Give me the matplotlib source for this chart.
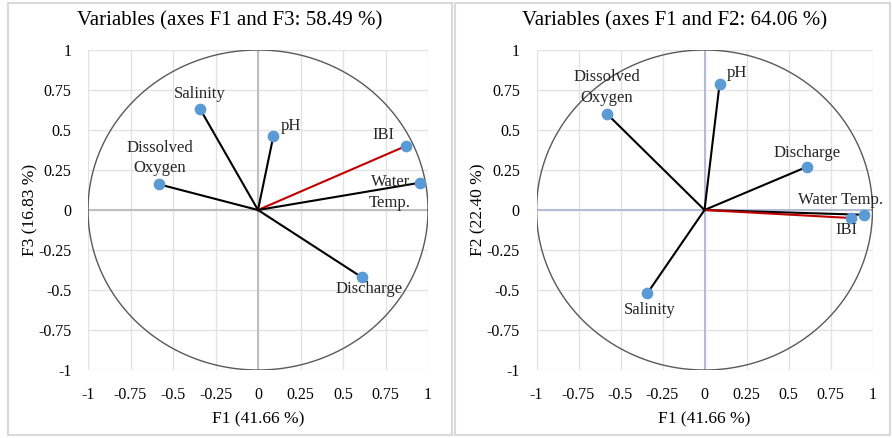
import numpy as np
import matplotlib
matplotlib.use('Agg')
import matplotlib.pyplot as plt
from matplotlib.patches import Rectangle

plt.rcParams['font.family'] = ['Liberation Serif', 'DejaVu Serif']

variables = ['Salinity', 'pH', 'IBI', 'Water\nTemp.', 'Dissolved\nOxygen', 'Discharge']
f1 = [-0.34, 0.09, 0.87, 0.95, -0.58, 0.61]
f3 = [0.63, 0.46, 0.40, 0.17, 0.16, -0.42]
# right panel order
variables_r = ['Dissolved\nOxygen', 'pH', 'Discharge', 'Water Temp.', 'IBI', 'Salinity']
f1_r = [-0.58, 0.09, 0.61, 0.95, 0.87, -0.34]
f2_r = [0.60, 0.79, 0.27, -0.03, -0.05, -0.52]

ticks = [-1, -0.75, -0.5, -0.25, 0, 0.25, 0.5, 0.75, 1]
tick_labels = ['-1', '-0.75', '-0.5', '-0.25', '0', '0.25', '0.5', '0.75', '1']

# label offsets in points (dx, dy, ha, va)
offs_left = {
    'Salinity': (0, 5, 'center', 'bottom'),
    'pH': (5, 2, 'left', 'bottom'),
    'IBI': (-8, 2, 'right', 'bottom'),
    'Water\nTemp.': (-6, -7, 'right', 'center'),
    'Dissolved\nOxygen': (0, 6, 'center', 'bottom'),
    'Discharge': (5, -3, 'center', 'top'),
}
offs_right = {
    'Dissolved\nOxygen': (0, 6, 'center', 'bottom'),
    'pH': (5, 2, 'left', 'bottom'),
    'Discharge': (0, 4, 'center', 'bottom'),
    'Water Temp.': (14, 11, 'right', 'center'),
    'IBI': (-3, -3, 'center', 'top'),
    'Salinity': (2, -6, 'center', 'top'),
}

fig = plt.figure(figsize=(8.92, 4.38), dpi=100)

# panel borders
for x0, x1 in [(8, 452), (455, 890)]:
    fig.patches.append(Rectangle((x0 / 892, 3 / 438), (x1 - x0) / 892, 432 / 438,
                                 transform=fig.transFigure, fill=False,
                                 edgecolor='#D9D9D9', linewidth=1.5))


def draw_panel(ax, xs, ys, names, offs, zero_color, ylab, title, title_x):
    ax.set_xlim(-1, 1)
    ax.set_ylim(-1, 1)
    ax.set_xticks(ticks)
    ax.set_yticks(ticks)
    ax.set_xticklabels(tick_labels)
    ax.set_yticklabels(tick_labels)
    ax.tick_params(length=0, labelsize=11.5, pad=12)
    ax.grid(color='#E3E3E3', linewidth=1)
    ax.set_axisbelow(True)
    for s in ax.spines.values():
        s.set_visible(False)
    ax.axhline(0, color=zero_color, linewidth=1.5, zorder=1)
    ax.axvline(0, color=zero_color, linewidth=1.5, zorder=1)
    t = np.linspace(0, 2 * np.pi, 400)
    ax.plot(np.cos(t), np.sin(t), color='#595959', linewidth=1, zorder=2)
    for x, y, n in zip(xs, ys, names):
        c = '#C00000' if n == 'IBI' else 'black'
        ax.plot([0, x], [0, y], color=c, linewidth=1.5, zorder=3)
    ax.scatter(xs, ys, s=55, color='#5B9BD5', zorder=4)
    for x, y, n in zip(xs, ys, names):
        dx, dy, ha, va = offs[n]
        ax.annotate(n, (x, y), xytext=(dx, dy), textcoords='offset points',
                    ha=ha, va=va, multialignment='center', fontsize=12,
                    color='#262626', linespacing=1.35, zorder=5,
                    annotation_clip=False)
    ax.set_xlabel('F1 (41.66 %)', fontsize=12.5, labelpad=6)
    ax.set_ylabel(ylab, fontsize=12.5, labelpad=0)
    fig.text(title_x, 1 - 21 / 438, title, ha='center', va='center', fontsize=15)


ax1 = fig.add_axes([88 / 892, 68 / 438, 340 / 892, 320 / 438])
draw_panel(ax1, f1, f3, variables, offs_left, '#BFBFBF', 'F3 (16.83 %)',
           'Variables (axes F1 and F3: 58.49 %)', 230 / 892)

ax2 = fig.add_axes([536.5 / 892, 68 / 438, 336 / 892, 320 / 438])
draw_panel(ax2, f1_r, f2_r, variables_r, offs_right, '#B4BDD3', 'F2 (22.40 %)',
           'Variables (axes F1 and F2: 64.06 %)', 675 / 892)

plt.savefig('out.png', dpi=100)
